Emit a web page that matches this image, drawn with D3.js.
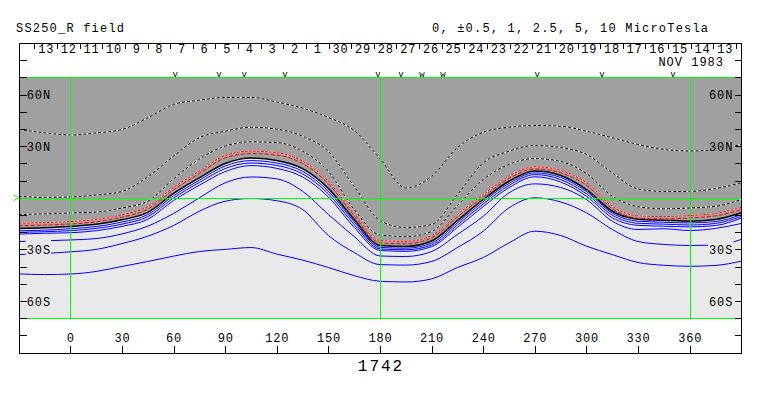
<!DOCTYPE html>
<html><head><meta charset="utf-8">
<script src="https://cdn.jsdelivr.net/npm/d3@7"></script>
<style>
html,body{margin:0;padding:0;background:#fff;}
svg{display:block;}
text{font-family:"Liberation Mono","DejaVu Sans Mono",monospace;fill:#000;}
</style>
</head><body>
<svg id="c" width="763" height="396"></svg>
<script>
// ---- data (Carrington longitude, latitude in degrees) ----
const lons = [-30,-15,0,15,30,45,60,75,90,105,120,135,150,165,180,195,210,225,240,255,270,285,300,315,330,345,360,375,390];
// positive contours (dotted)
const D1 = [39.7,37.8,36.5,37.7,39.7,46.5,54.2,56.7,58.3,58.3,55.6,52.1,46.7,39.1,22.8,5.7,12.4,29.2,38.1,41.0,42.0,41.6,38.7,34.9,31.0,28.1,27.2,28.1,31.0];
const D2 = [0.9,0.3,0.5,1.6,3.7,12.2,24.2,34.9,38.7,41.0,39.9,35.8,26.9,6.6,-13.2,-17.3,-15.5,1.9,20.3,27.1,30.4,29.2,25.2,14.5,5.1,3.7,3.7,5.4,8.7];
const D3 = [-9.7,-9.3,-8.8,-8.3,-5.9,-2.0,11.0,22.5,30.0,32.5,32.1,27.1,15.3,-6.8,-21.6,-22.5,-19.6,-4.5,10.6,19.4,22.8,21.1,14.1,0.9,-5.1,-6.4,-5.9,-4.9,-1.0];
// weak contours (red)
const R1 = [-14.8,-14.4,-13.8,-12.6,-9.9,-5.2,6.0,15.5,24.6,27.1,26.2,21.3,9.5,-9.1,-24.8,-25.4,-21.9,-9.7,1.9,12.6,18.0,15.9,8.7,-4.9,-10.5,-10.9,-10.3,-9.1,-5.6];
const R2 = [-16.2,-15.8,-15.2,-14.0,-11.3,-6.6,4.6,14.1,23.2,25.7,24.8,19.9,8.1,-10.5,-26.2,-26.8,-23.3,-11.1,0.5,11.2,16.8,14.5,7.3,-6.3,-11.9,-12.3,-11.7,-10.5,-7.0];
// neutral line
const N0 = [-17.8,-17.4,-16.7,-15.4,-12.8,-8.5,2.5,11.6,19.9,23.1,21.7,16.9,5.4,-12.6,-27.7,-28.3,-25.1,-13.2,-1.0,9.6,15.5,13.0,4.8,-7.8,-12.4,-13.0,-13.6,-12.6,-8.7];
// negative contours (blue)
const B1 = [-19.2,-18.8,-18.0,-16.7,-14.1,-9.8,1.2,10.2,18.5,21.6,20.2,15.4,3.8,-14.0,-28.8,-29.3,-26.3,-14.5,-2.3,8.4,14.5,11.8,3.6,-8.9,-13.6,-14.2,-14.6,-13.8,-9.8];
const B2 = [-20.1,-19.7,-19.1,-17.8,-15.3,-11.0,-0.1,8.9,17.0,20.2,18.8,13.9,2.3,-15.5,-29.7,-30.2,-27.4,-15.8,-3.6,7.2,13.5,10.6,2.3,-10.1,-14.8,-15.3,-15.8,-14.9,-10.8];
const B3 = [-21.1,-20.6,-20.3,-19.1,-16.6,-12.5,-1.6,7.3,15.2,18.7,17.1,12.1,0.5,-17.2,-30.6,-31.1,-28.4,-17.2,-5.1,5.9,12.2,9.2,0.9,-11.6,-16.0,-16.5,-16.9,-16.1,-11.8];
const B4 = [-25.4,-25.0,-24.5,-23.7,-21.0,-16.5,-9.1,0.0,8.7,12.1,11.0,3.8,-9.7,-22.5,-33.8,-34.1,-31.2,-21.3,-10.7,2.9,8.1,6.0,-1.0,-13.6,-18.4,-18.0,-19.0,-17.8,-14.9];
const B5 = [-33.0,-32.4,-31.4,-30.0,-26.6,-22.3,-16.1,-7.8,-2.0,-0.4,-1.7,-6.8,-21.9,-31.8,-38.8,-39.1,-37.0,-28.9,-19.4,-5.8,0.0,-2.4,-8.7,-18.4,-25.4,-27.1,-27.7,-27.5,-24.2];
const B6 = [-44.2,-44.6,-44.3,-42.8,-39.9,-37.0,-33.9,-31.2,-30.0,-28.9,-32.7,-36.2,-40.5,-45.2,-48.5,-48.9,-47.1,-40.5,-34.7,-26.2,-19.4,-21.9,-28.1,-33.0,-37.6,-39.2,-39.8,-39.3,-36.8];

// axes / labels
const lonTicks = [0,30,60,90,120,150,180,210,240,270,300,330,360];
const latTicks = [-80,-70,-60,-50,-40,-30,-20,-10,10,20,30,40,50,60,70,80];
const latLabelVals = [60,30,-30,-60];
const latLabelText = ["60N","30N","30S","60S"];
const gridLons = [0,180,360];
const gridLats = [70,0,-70];
// observation markers along the top
const markLon = [61,86.4,101,124.8,178.8,192.2,204.4,216.6,271.3,309,350.3];
const markGlyph = ["v","v","v","v","v","v","w","w","v","v","v"];
// date axis: Nov 13 1983 .. Dec 14 1983 (time runs right to left)
const dateStart = new Date(Date.UTC(1983,10,13));
const dateEnd = new Date(Date.UTC(1983,11,14));
const dateLonRange = [386.9,-20.9];
const titleLeft = "SS250_R field";
const titleRight = "0, \u00b10.5, 1, 2.5, 5, 10 MicroTesla";
const monthLabel = "NOV 1983";
const rotation = "1742";

// ---- drawing ----
const svg = d3.select("#c");
const x = d3.scaleLinear().domain([-30,390]).range([18.7,741.3]);
const y = d3.scaleLinear().domain([-90,90]).range([352.7,42.9]);
const c = v => Math.round(v)+0.5;
const DARK="#a0a0a0", LIGHT="#e9e9e9", GREEN="#00ff00";
const xL=x(-30), xR=x(390), yT=y(70), yB=y(-70);

svg.append("rect").attr("width",763).attr("height",396).attr("fill","#fff");
svg.append("defs").append("clipPath").attr("id","pc").append("rect")
  .attr("x",xL).attr("y",yT).attr("width",xR-xL).attr("height",yB-yT);
const g = svg.append("g").attr("clip-path","url(#pc)");
g.append("rect").attr("x",xL).attr("y",yT).attr("width",xR-xL).attr("height",yB-yT).attr("fill",LIGHT);

const pts = arr => lons.map((l,i)=>[l,arr[i]]);
const area = d3.area().x(d=>x(d[0])).y0(yT).y1(d=>y(d[1])).curve(d3.curveMonotoneX);
g.append("path").attr("d",area(pts(N0))).attr("fill",DARK);
const line = d3.line().x(d=>x(d[0])).y(d=>y(d[1])).curve(d3.curveMonotoneX);

function draw(arr, stroke, width, dash, under){
  if(under){ g.append("path").attr("d",line(pts(arr))).attr("fill","none").attr("stroke",under).attr("stroke-width",width); }
  const p = g.append("path").attr("d",line(pts(arr))).attr("fill","none").attr("stroke",stroke).attr("stroke-width",width);
  if(dash) p.attr("stroke-dasharray",dash);
}
[B6,B5,B4,B3,B2,B1].forEach(a=>draw(a,"#0000ff",1));
draw(N0,"#000",1.5);
draw(R2,"#ff0000",1,"4,2");
draw(R1,"#ff0000",1,"3,1","#fff");
[D3,D2,D1].forEach(a=>draw(a,"#000",1,"3,2","#fff"));

// green grid
gridLats.forEach(la=>{
  svg.append("line").attr("x1",xL).attr("x2",xR).attr("y1",c(y(la))).attr("y2",c(y(la)))
    .attr("stroke",GREEN).attr("stroke-width",1).attr("shape-rendering","crispEdges");
});
gridLons.forEach(lo=>{
  svg.append("line").attr("x1",c(x(lo))).attr("x2",c(x(lo))).attr("y1",yT).attr("y2",yB)
    .attr("stroke",GREEN).attr("stroke-width",1).attr("shape-rendering","crispEdges");
});
svg.append("path").attr("d",`M${xL-5},${y(0)-3}L${xL-0.5},${y(0)}L${xL-5},${y(0)+3}`)
  .attr("fill","none").attr("stroke",GREEN).attr("stroke-width",1);

// latitude labels with background boxes
latLabelVals.forEach((la,i)=>{
  const bg = la>0 ? DARK : LIGHT;
  [["start",x(-30)+8],["end",x(390)-8]].forEach(([anchor,tx])=>{
    const t = svg.append("text").attr("x",tx).attr("y",y(la)+4.5).attr("text-anchor",anchor)
      .attr("font-size",12).attr("letter-spacing",0.9).text(latLabelText[i]);
    const bb = t.node().getBBox();
    svg.insert("rect","text:last-of-type").attr("x",bb.x-1).attr("y",y(la)+4.5-15).attr("width",bb.width+1)
      .attr("height",20).attr("fill",bg);
  });
});

// frame
svg.append("rect").attr("x",c(xL)).attr("y",c(y(90))).attr("width",c(xR)-c(xL)).attr("height",c(y(-90))-c(y(90)))
  .attr("fill","none").attr("stroke","#000").attr("stroke-width",1).attr("shape-rendering","crispEdges");
// latitude ticks
latTicks.forEach(la=>{
  [[c(xL),c(xL)+7],[c(xR)-7,c(xR)]].forEach(([a,b])=>{
    svg.append("line").attr("x1",a).attr("x2",b).attr("y1",c(y(la))).attr("y2",c(y(la)))
      .attr("stroke","#000").attr("shape-rendering","crispEdges");
  });
});
// longitude ticks and labels
lonTicks.forEach(lo=>{
  svg.append("line").attr("x1",c(x(lo))).attr("x2",c(x(lo))).attr("y1",c(y(-90))-8).attr("y2",c(y(-90)))
    .attr("stroke","#000").attr("shape-rendering","crispEdges");
  svg.append("text").attr("x",x(lo)+0.5).attr("y",342).attr("text-anchor","middle")
    .attr("font-size",12).attr("letter-spacing",0.8).text(lo);
});

// date axis
const dateLon = d3.scaleUtc().domain([dateStart,dateEnd]).range(dateLonRange);
d3.utcDay.range(dateStart, d3.utcDay.offset(dateEnd,1)).forEach(d=>{
  const xx = c(x(dateLon(d)));
  svg.append("line").attr("x1",xx).attr("x2",xx).attr("y1",c(y(90))).attr("y2",c(y(90))+5)
    .attr("stroke","#000").attr("shape-rendering","crispEdges");
});
d3.utcDay.range(dateStart, dateEnd).forEach(d=>{
  const mid = d3.utcHour.offset(d,12);
  svg.append("text").attr("x",x(dateLon(mid))+0.5).attr("y",53).attr("text-anchor","middle")
    .attr("font-size",12).attr("letter-spacing",0.8).text(d.getUTCDate());
});
svg.append("text").attr("x",724).attr("y",65.5).attr("text-anchor","end")
  .attr("font-size",12).attr("letter-spacing",1).text(monthLabel);

// observation markers
markLon.forEach((lo,i)=>{
  svg.append("text").attr("x",x(lo)).attr("y",77).attr("text-anchor","middle")
    .attr("font-size",9).text(markGlyph[i]);
});

// titles
svg.append("text").attr("x",16).attr("y",31.5).attr("font-size",12).attr("letter-spacing",1.2).text(titleLeft);
svg.append("text").attr("x",432).attr("y",31.5).attr("font-size",12).attr("letter-spacing",1.2).text(titleRight);
svg.append("text").attr("x",381).attr("y",371).attr("text-anchor","middle").attr("font-size",16)
  .attr("letter-spacing",2).text(rotation);
</script>
</body></html>
